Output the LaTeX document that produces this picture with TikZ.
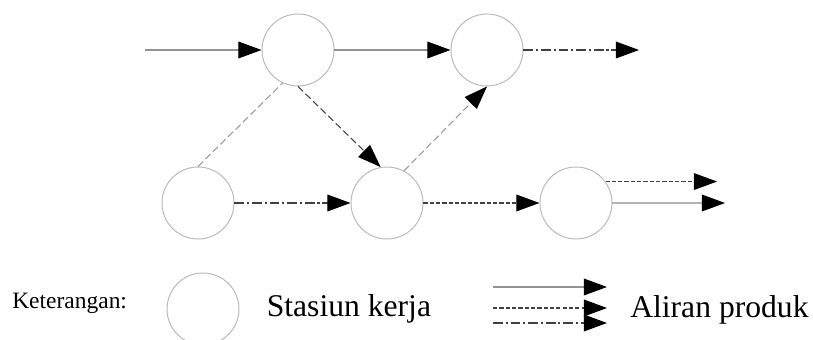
\documentclass[tikz,border=0pt]{standalone}
\usepackage{fontspec}
\setmainfont{Liberation Serif}
\usetikzlibrary{arrows.meta,positioning}

\begin{document}
\begin{tikzpicture}[
    node distance=2.9cm,
    station/.style={circle, draw=gray!55, line width=0.7pt,
                    minimum size=1.8cm, inner sep=0pt},
    arr/.style={-{Triangle[length=0.58cm, width=0.42cm, color=black]},
                line width=0.75pt, draw=black!75},
    solidln/.style={draw=gray!85},
    dashdot/.style={dash pattern=on 7pt off 2pt on 1.5pt off 2pt},
    dashln/.style={dash pattern=on 5pt off 2.5pt},
    dotln/.style={dash pattern=on 3pt off 1.5pt},
    legtext/.style={font=\fontsize{22.5}{26}\selectfont, inner sep=0pt},
]
\useasboundingbox (0,0) rectangle (20.325,-8.5);

% stasiun kerja
\node[station] (ws3) at (4.95,-5.075) {};
\node[station, right=of ws3] (ws4) {};
\node[station, right=of ws4] (ws5) {};
\node[station] (ws1) at (7.45,-1.25) {};
\node[station, right=of ws1] (ws2) {};

% ujung bebas aliran masuk / keluar
\coordinate (in1)   at (3.625,-1.25);
\coordinate (out2)  at (15.975,-1.25);
\coordinate (out5a) at (17.925,-4.55);
\coordinate (out5b) at (18.125,-5.075);

% aliran produk
\draw[arr, solidln] (in1) -- (ws1);
\draw[arr, solidln] (ws1) -- (ws2);
\draw[arr, dashdot] (ws2) -- (out2);
\draw[dashln, line width=0.75pt, draw=gray!80] (ws3.north) -- (ws1.245);
\draw[arr, dashln] (ws1.south) -- (ws4.100);
\draw[arr, dashln, draw=gray!80] (ws4.62) -- (ws2.south);
\draw[arr, dashdot] (ws3) -- (ws4);
\draw[arr, dotln]   (ws4) -- (ws5);
\draw[arr, dotln]   (ws5.36) -- (ws5.36 -| out5a);
\draw[arr, draw=gray!60] (ws5) -- (out5b);

% keterangan
\node[font=\fontsize{16.7}{20}\selectfont, inner sep=0pt, anchor=base west] (ket) at (0.3,-7.725) {Keterangan:};
\node[station] (legws) at (5.075,-7.725) {};
\node[legtext, right=0.675cm of legws] (legwstxt) {Stasiun kerja};

\foreach \y/\sty [count=\i] in {-7.175/solidln, -7.7/dotln, -8.075/dashdot} {
  \coordinate (lga\i) at (12.325,\y);
  \coordinate (lgb\i) at (15.175,\y);
  \draw[arr, \sty] (lga\i) -- (lgb\i);
}
\node[legtext, anchor=base west] (legarrtxt) at (15.75,-7.95) {Aliran produk};

\end{tikzpicture}
\end{document}
